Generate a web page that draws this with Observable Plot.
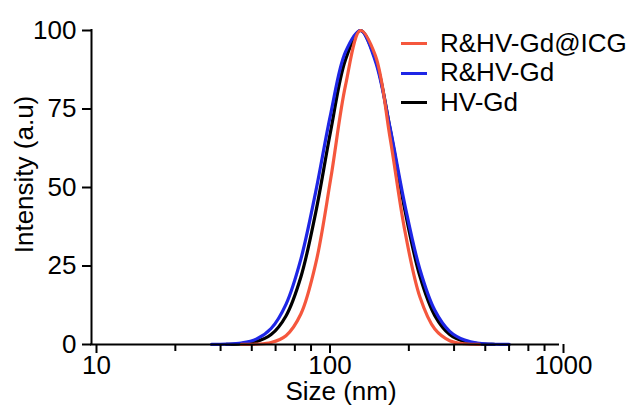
<!DOCTYPE html>
<html>
<head>
<meta charset="utf-8">
<script src="https://cdn.jsdelivr.net/npm/d3@7"></script>
<script src="https://cdn.jsdelivr.net/npm/@observablehq/plot@0.6"></script>
<style>
  html, body { margin: 0; padding: 0; background: #fff; }
  #wrap { position: relative; width: 635px; height: 408px; font-family: "Liberation Sans", Arial, sans-serif; }
  #legend { position: absolute; left: 401px; top: 28.75px; font-size: 26px; line-height: 29.5px; color: #000; }
  .row { display: flex; align-items: center; height: 29.5px; white-space: nowrap; }
  .sw { width: 26px; height: 3px; margin-right: 13px; }
</style>
</head>
<body>
<div id="wrap"></div>
<script>
// Size bins (nm)
const sizes = [28.21, 32.67, 37.84, 43.82, 50.75, 58.77, 68.06, 78.82, 91.28, 105.7, 122.4, 141.8, 164.2, 190.1, 220.2, 255.0, 295.3, 342.0, 396.1, 458.7, 531.2, 615.1];
// Intensities (a.u.) per series, aligned with sizes (null = no point)
const hvGd      = [null, null, 0.04, 0.21, 0.9, 3.15, 9.1, 21.5, 42.1, 67.9, 90.7, 100, 91.0, 68.5, 42.5, 21.7, 9.2, 3.2, 0.92, 0.22, 0.04, null];
const rhvGd     = [null, 0.02, 0.11, 0.48, 1.7, 5.1, 12.8, 27.2, 48.7, 73.3, 93.2, 100, 90.3, 68.9, 44.2, 23.9, 10.9, 4.2, 1.4, 0.37, 0.08, 0.02];
const rhvGdIcg  = [null, null, null, 0.01, 0.11, 0.62, 2.8, 9.7, 25.8, 52.6, 82.5, 100, 92.1, 65.7, 35.9, 15.1, 4.9, 1.2, 0.23, 0.03, null, null];

const seriesNames = ["R&HV-Gd@ICG", "R&HV-Gd", "HV-Gd"];
const seriesColors = ["#F5573D", "#1E26E6", "#000000"];
const drawOrder = [[hvGd, 2], [rhvGd, 1], [rhvGdIcg, 0]];

const xDomain = [10, 1000];
const yDomain = [0, 100];
const xMajorTicks = [10, 100, 1000];
const xMinorTicks = [22.86, 35.71, 48.57, 61.43, 74.29, 87.14, 228.6, 357.1, 485.7, 614.3, 742.9, 871.4];
const yTicks = [0, 25, 50, 75, 100];
const xTitle = "Size (nm)";
const yTitle = "Intensity (a.u)";

const table = [];
for (const [vals, si] of drawOrder) {
  sizes.forEach((s, i) => {
    if (vals[i] != null) table.push({size: s, value: vals[i], series: seriesNames[si]});
  });
}

const colorOf = Object.fromEntries(seriesNames.map((n, i) => [n, seriesColors[i]]));

const chart = Plot.plot({
  width: 635,
  height: 408,
  marginLeft: 91,
  marginRight: 77,
  marginTop: 30,
  marginBottom: 64,
  style: {fontFamily: '"Liberation Sans", Arial, sans-serif', fontSize: "26px", color: "#000", background: "#fff"},
  x: {type: "log", domain: xDomain, label: null},
  y: {domain: yDomain, label: null},
  marks: [
    ...drawOrder.map(([vals, si]) =>
      Plot.line(table.filter(d => d.series === seriesNames[si]), {
        x: "size", y: "value", stroke: colorOf[seriesNames[si]], strokeWidth: 3.2, curve: "catmull-rom"
      })
    ),
    Plot.ruleX([xDomain[0]], {y1: yDomain[0], y2: yDomain[1], stroke: "#000", strokeWidth: 2, strokeLinecap: "square"}),
    Plot.ruleY([yDomain[0]], {x1: xDomain[0], x2: xDomain[1], stroke: "#000", strokeWidth: 2, strokeLinecap: "square"}),
    Plot.axisY(yTicks, {tickSize: 9, tickPadding: 6, strokeWidth: 2, stroke: "#000", fill: "#000", label: null}),
    Plot.axisX(xMajorTicks, {tickSize: 9, tickPadding: 2, strokeWidth: 2, stroke: "#000", fill: "#000", dx: 5, tickFormat: d => String(d), label: null}),
    Plot.axisX(xMinorTicks, {tickSize: 7, strokeWidth: 2, stroke: "#000", tickFormat: () => "", label: null}),
    Plot.text([xTitle], {frameAnchor: "bottom", textAnchor: "middle", lineAnchor: "middle", text: d => d, dx: 16, dy: 47, fill: "#000"}),
    Plot.text([yTitle], {frameAnchor: "left", textAnchor: "middle", lineAnchor: "middle", text: d => d, rotate: -90, dx: -67, dy: -13, fill: "#000"})
  ]
});

const wrap = document.getElementById("wrap");
wrap.appendChild(chart);

const legend = document.createElement("div");
legend.id = "legend";
seriesNames.forEach((n, i) => {
  const row = document.createElement("div");
  row.className = "row";
  const sw = document.createElement("span");
  sw.className = "sw";
  sw.style.background = seriesColors[i];
  const t = document.createElement("span");
  t.textContent = n;
  row.appendChild(sw);
  row.appendChild(t);
  legend.appendChild(row);
});
wrap.appendChild(legend);
</script>
</body>
</html>
